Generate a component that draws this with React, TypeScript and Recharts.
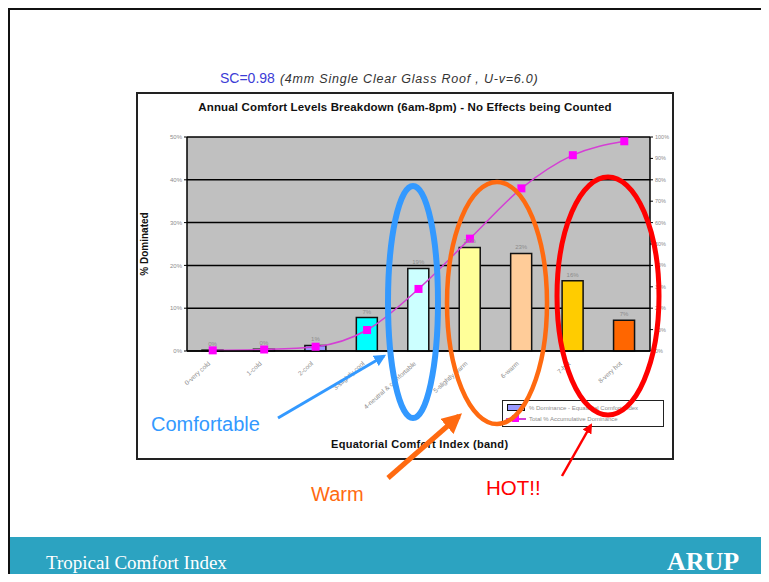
import React from 'react';
import { ComposedChart, Bar, Line, XAxis, YAxis, CartesianGrid, Cell, LabelList } from 'recharts';

// Equatorial comfort index bands
const categories = [
  '0-very cold',
  '1-cold',
  '2-cool',
  '3-slightly cool',
  '4-neutral & comfortable',
  '5-slightly warm',
  '6-warm',
  '7-hot',
  '8-very hot',
];
const dominance = [0.2, 0.4, 1.3, 7.8, 19.3, 24.2, 22.8, 16.4, 7.2];
const barLabels = ['0%', '0%', '1%', '7%', '19%', '24%', '23%', '16%', '7%'];
const accumulative = [0.3, 0.7, 2, 9.8, 29, 52.5, 76, 91.5, 98];
const barColors = ['#9999ff', '#9999ff', '#9999ff', '#00ffff', '#ccffff', '#ffff99', '#ffcc99', '#ffcc00', '#ff6600'];
const leftTicks = [0, 10, 20, 30, 40, 50];
const rightTicks = [0, 10, 20, 30, 40, 50, 60, 70, 80, 90, 100];
const legendLabels = ['% Dominance - Equatorial Comfort Index', 'Total % Accumulative Dominance'];

const data = categories.map((band, i) => ({
  band,
  dominance: dominance[i],
  accumulative: accumulative[i],
  label: barLabels[i],
}));

const SANS = '"Liberation Sans", Arial, sans-serif';
const SERIF = '"Liberation Serif", "Times New Roman", serif';

const BandTick = ({ x, y, payload }: any) => (
  <g transform={`translate(${x - 4},${y + 3}) rotate(-42)`}>
    <text textAnchor="end" fontSize={6.5} fill="#8c8c8c" fontFamily={SANS} dy={3}>
      {payload.value}
    </text>
  </g>
);

const SquareDot = ({ cx, cy }: any) => {
  if (cx == null || cy == null) return null;
  return <rect x={cx - 4} y={cy - 4} width={8} height={8} fill="#ff00ff" />;
};

export default function App() {
  return (
    <div style={{ position: 'relative', width: 769, height: 582, margin: -8, background: '#fff', overflow: 'hidden', fontFamily: SANS }}>
      {/* slide frame */}
      <div style={{ position: 'absolute', left: 7, top: 7, width: 2.5, height: 575, background: '#111' }} />
      <div style={{ position: 'absolute', left: 7, top: 7, width: 762, height: 2.5, background: '#111' }} />

      {/* subtitle */}
      <div style={{ position: 'absolute', left: 220, top: 69, whiteSpace: 'nowrap' }}>
        <span style={{ color: '#3c3cd6', fontSize: 14 }}>SC=0.98</span>
        <span style={{ color: '#333', fontSize: 12.5, fontStyle: 'italic', marginLeft: 5, letterSpacing: 0.8 }}>(4mm Single Clear Glass Roof , U-v=6.0)</span>
      </div>

      {/* chart box */}
      <div style={{ position: 'absolute', left: 136, top: 92, width: 538, height: 368, border: '2px solid #222', boxSizing: 'border-box', background: '#fff' }}>
        <div style={{ position: 'absolute', left: 0, top: 7, width: 534, textAlign: 'center', fontSize: 11.5, fontWeight: 'bold', color: '#111', whiteSpace: 'nowrap', letterSpacing: 0.15 }}>
          Annual Comfort Levels Breakdown (6am-8pm) - No Effects being Counted
        </div>
        <ComposedChart width={534} height={364} data={data} margin={{ top: 43, right: 0, bottom: 0, left: 0 }}>
          <CartesianGrid yAxisId="left" vertical={false} stroke="#000" strokeWidth={1.5} fill="#c0c0c0" />
          <XAxis
            dataKey="band"
            height={107}
            interval={0}
            tick={<BandTick />}
            tickLine={false}
            axisLine={{ stroke: '#000', strokeWidth: 1.5 }}
          />
          <YAxis
            yAxisId="left"
            width={49}
            domain={[0, 50]}
            ticks={leftTicks}
            tickFormatter={(v) => `${v}%`}
            tick={{ fontSize: 6, fill: '#8c8c8c', fontFamily: SANS }}
            tickLine={{ stroke: '#000' }}
            tickSize={3}
            axisLine={{ stroke: '#000', strokeWidth: 1.5 }}
            label={{ value: '% Dominated', angle: -90, position: 'insideLeft', offset: 6, style: { fontSize: 10, fontWeight: 'bold', fill: '#111', textAnchor: 'middle' } }}
          />
          <YAxis
            yAxisId="right"
            orientation="right"
            width={22}
            domain={[0, 100]}
            ticks={rightTicks}
            tickFormatter={(v) => `${v}%`}
            tick={{ fontSize: 5.5, fill: '#8c8c8c', fontFamily: SANS }}
            tickLine={{ stroke: '#000' }}
            tickSize={3}
            axisLine={{ stroke: '#000', strokeWidth: 1.5 }}
          />
          <Bar yAxisId="left" dataKey="dominance" barSize={21} stroke="#111" strokeWidth={1.5} isAnimationActive={false}>
            {data.map((d, i) => (
              <Cell key={d.band} fill={barColors[i]} />
            ))}
            <LabelList dataKey="label" position="top" offset={4} style={{ fontSize: 6, fill: '#8c8c8c', fontFamily: SANS }} />
          </Bar>
          <Line
            yAxisId="right"
            dataKey="accumulative"
            type="monotone"
            stroke="#d43fd4"
            strokeWidth={1.5}
            dot={<SquareDot />}
            activeDot={false}
            isAnimationActive={false}
          />
        </ComposedChart>
        <div style={{ position: 'absolute', left: 193, top: 344, fontSize: 11, fontWeight: 'bold', color: '#111', whiteSpace: 'nowrap', letterSpacing: 0.3 }}>
          Equatorial Comfort Index (band)
        </div>
        {/* legend */}
        <div style={{ position: 'absolute', left: 364, top: 306, width: 162, height: 27, border: '1.5px solid #222', boxSizing: 'border-box', background: '#fff', fontSize: 6, color: '#8c8c8c', whiteSpace: 'nowrap', overflow: 'hidden' }}>
          <div style={{ display: 'flex', alignItems: 'center', height: 11, marginTop: 1 }}>
            <span style={{ display: 'inline-block', width: 16, height: 5, background: '#9999ff', border: '1.5px solid #111', marginLeft: 4, marginRight: 4 }} />
            {legendLabels[0]}
          </div>
          <div style={{ display: 'flex', alignItems: 'center', height: 11 }}>
            <span style={{ position: 'relative', display: 'inline-block', width: 20, height: 8, marginLeft: 3, marginRight: 3 }}>
              <span style={{ position: 'absolute', left: 0, top: 3.5, width: 20, height: 1.5, background: '#d43fd4' }} />
              <span style={{ position: 'absolute', left: 6, top: 0.5, width: 7, height: 7, background: '#ff00ff' }} />
            </span>
            {legendLabels[1]}
          </div>
        </div>
      </div>

      {/* annotations */}
      <svg width={769} height={582} style={{ position: 'absolute', left: 0, top: 0, pointerEvents: 'none' }}>
        <defs>
          <marker id="headBlue" viewBox="0 0 10 10" refX="8" refY="5" markerWidth="4" markerHeight="4" orient="auto">
            <path d="M0,0 L10,5 L0,10 z" fill="#3399ff" />
          </marker>
          <marker id="headOrange" viewBox="0 0 10 10" refX="8" refY="5" markerWidth="4" markerHeight="4" orient="auto">
            <path d="M0,0 L10,5 L0,10 z" fill="#ff6a10" />
          </marker>
          <marker id="headRed" viewBox="0 0 10 10" refX="8" refY="5" markerWidth="4" markerHeight="4" orient="auto">
            <path d="M0,0 L10,5 L0,10 z" fill="#ff0000" />
          </marker>
        </defs>
        <ellipse cx={413} cy={302} rx={25} ry={116} fill="none" stroke="#3399ff" strokeWidth={6} />
        <ellipse cx={497} cy={303} rx={50} ry={121} fill="none" stroke="#ff6a10" strokeWidth={4.5} />
        <ellipse cx={608} cy={296} rx={51} ry={119} fill="none" stroke="#ff0000" strokeWidth={5} />
        <line x1={278} y1={418} x2={384} y2={356} stroke="#3399ff" strokeWidth={3} markerEnd="url(#headBlue)" />
        <line x1={388} y1={478} x2={459} y2={416} stroke="#ff6a10" strokeWidth={5} markerEnd="url(#headOrange)" />
        <line x1={562} y1={476} x2={591} y2={425} stroke="#ff0000" strokeWidth={2.5} markerEnd="url(#headRed)" />
        <text x={151} y={431} fontSize={20} fill="#3399ff" fontFamily={SANS}>Comfortable</text>
        <text x={311} y={501} fontSize={20} fill="#ff6a10" fontFamily={SANS}>Warm</text>
        <text x={486} y={495} fontSize={20.5} fill="#ff0000" fontFamily={SANS}>HOT!!</text>
      </svg>

      {/* footer band */}
      <div style={{ position: 'absolute', left: 0, top: 537, width: 769, height: 45, background: '#2ca3c1' }} />
      <div style={{ position: 'absolute', left: 7, top: 537, width: 2.5, height: 45, background: '#111' }} />
      <div style={{ position: 'absolute', left: 46, top: 552, fontFamily: SERIF, fontSize: 19, color: '#fff', whiteSpace: 'nowrap' }}>Tropical Comfort Index</div>
      <div style={{ position: 'absolute', left: 667, top: 547, fontFamily: SERIF, fontSize: 26, fontWeight: 'bold', color: '#fff', whiteSpace: 'nowrap' }}>ARUP</div>
    </div>
  );
}
